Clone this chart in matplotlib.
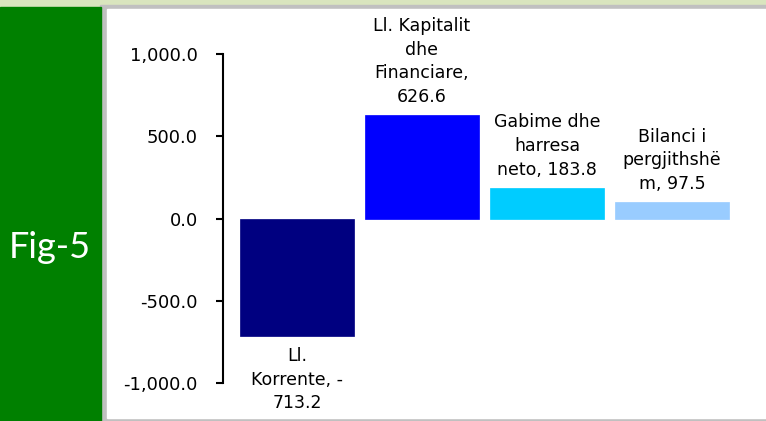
import matplotlib
matplotlib.use("Agg")
import matplotlib.pyplot as plt
from matplotlib.patches import Rectangle

plt.rcParams["font.family"] = ["DejaVu Sans"]

categories = ["Ll. Korrente", "Ll. Kapitalit dhe Financiare", "Gabime dhe harresa neto", "Bilanci i pergjithshëm"]
values = [-713.2, 626.6, 183.8, 97.5]
labels = ["Ll.\nKorrente, -\n713.2", "Ll. Kapitalit\ndhe\nFinanciare,\n626.6",
          "Gabime dhe\nharresa\nneto, 183.8", "Bilanci i\npergjithshë\nm, 97.5"]
colors = ["#000080", "#0000FF", "#00CCFF", "#99CCFF"]
yticks = [-1000, -500, 0, 500, 1000]

W, H = 766, 421
fig = plt.figure(figsize=(W / 100, H / 100), dpi=100)
fig.patch.set_facecolor("#d9e5be")

def frect(x0, y0, x1, y1, color):
    fig.patches.append(Rectangle((x0 / W, 1 - y1 / H), (x1 - x0) / W, (y1 - y0) / H,
                                 transform=fig.transFigure, color=color, zorder=-5))

frect(100, 5, W, H, "#c0c0c0")
frect(107, 9, W, 418, "#ffffff")
frect(0, 7, 101, H, "#008000")

fig.text(50 / W, 1 - 248 / H, "Fig-5", color="white", fontsize=26, family="Lato",
         ha="center", va="center")

ax_l, ax_r, ax_t, ax_b = 223, 734.5, 54, 383
ax = fig.add_axes([ax_l / W, 1 - ax_b / H, (ax_r - ax_l) / W, (ax_b - ax_t) / H])
ax.patch.set_alpha(0)

x = list(range(len(values)))
ax.bar(x, values, width=0.912, color=colors, edgecolor=colors, linewidth=0.5)
ax.set_xlim(-0.592, 3.5)
ax.set_ylim(-1000, 1000)

for s in ["top", "right", "bottom"]:
    ax.spines[s].set_visible(False)
ax.spines["left"].set_linewidth(1.5)
ax.set_xticks([])
ax.set_yticks(yticks)
ax.set_yticklabels([f"{v:,.1f}" for v in yticks])
ax.tick_params(axis="y", direction="out", length=5, width=1.5, pad=13, labelsize=13, colors="black")

for xi, v, lab in zip(x, values, labels):
    if v >= 0:
        ax.annotate(lab, (xi, v), xytext=(0, 7), textcoords="offset points",
                    ha="center", va="bottom", fontsize=12.5, linespacing=1.4, annotation_clip=False)
    else:
        ax.annotate(lab, (xi, v), xytext=(0, -8), textcoords="offset points",
                    ha="center", va="top", fontsize=12.5, linespacing=1.4, annotation_clip=False)

fig.savefig("out.png", dpi=100, facecolor=fig.get_facecolor())
